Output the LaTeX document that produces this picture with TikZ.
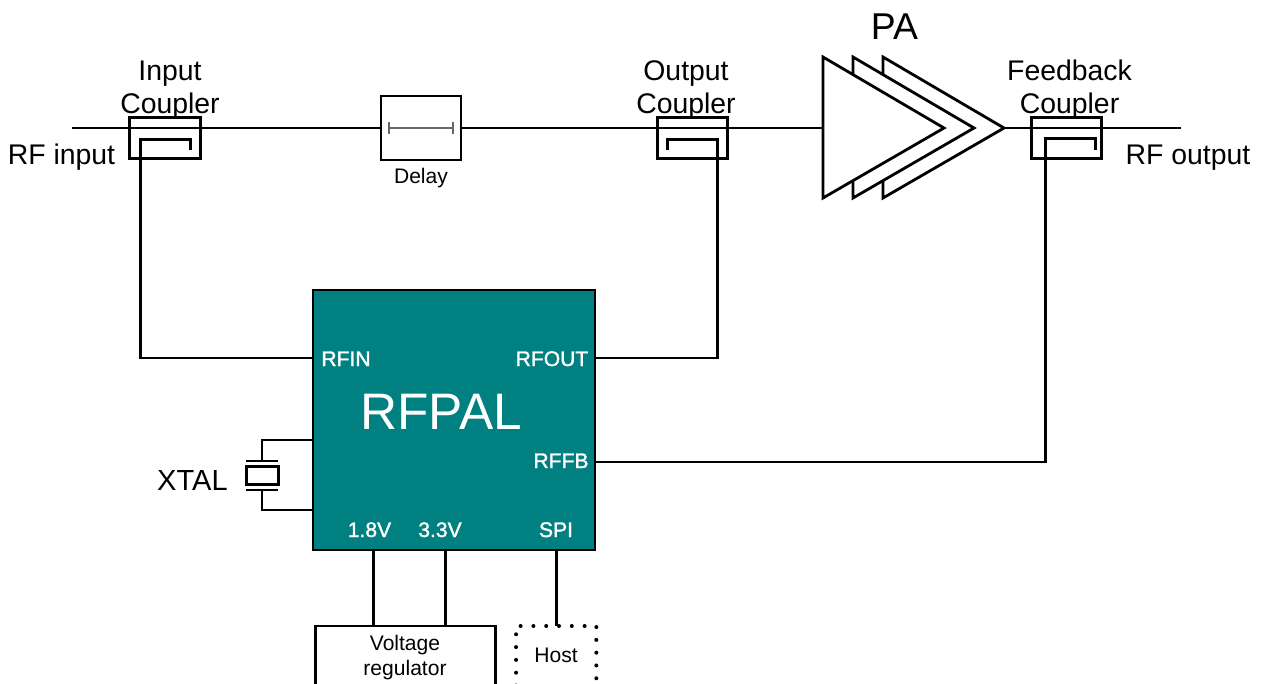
\documentclass[tikz,border=0pt]{standalone}
\usepackage{fontspec}
\setmainfont{Liberation Sans}
\newfontfamily\pinfont[FakeBold=1.5]{Liberation Sans}
\definecolor{chipteal}{HTML}{008080}
\tikzset{
  wire/.style={line width=2.2pt,black,xshift=0.375pt,yshift=-0.375pt},
  boxed/.style={draw=black,line width=2.1pt,inner sep=0pt,outer sep=0pt,rectangle},
  lbl/.style={anchor=base,inner sep=0pt,outer sep=0pt,text=black,font=\fontsize{21.3}{25}\selectfont},
  small/.style={anchor=base,inner sep=0pt,outer sep=0pt,text=black,font=\fontsize{15.8}{19}\selectfont},
  pin/.style={anchor=base,inner sep=0pt,outer sep=0pt,text=white,font=\pinfont\fontsize{15.8}{18}\selectfont},
  amp/.style={draw=black,line width=2.1pt,fill=white,line join=miter}
}
\begin{document}
\begin{tikzpicture}[x=0.75pt,y=-0.75pt]
\useasboundingbox (0,0) rectangle (1261,683);
\clip (0,0) rectangle (1261,683);
% endpoints
\coordinate (inL) at (72,128);
\coordinate (outR) at (1181,128);
% delay
\node[boxed,fill=white,minimum width=60pt,minimum height=48pt] (delay) at (421,128) {};
\node[small] (delaylbl) at (421,183) {Delay};
\coordinate (dl) at (389,128);
\coordinate (dr) at (453,128);
% amp nodes
\coordinate (ampin) at (823,128);
\coordinate (ampout) at (1004,128);
% main line
\draw[wire] (inL) -- (delay.west);
\draw[wire] (delay.east) -- (ampin);
\draw[wire] (ampout) -- (outR);
% delay symbol
\draw[line width=1pt,black!60] (dl) -- (dr);
\draw[line width=1pt,black!60] (389,122) -- (389,134);
\draw[line width=1pt,black!60] (453,122) -- (453,134);
% PA
\draw[amp] (883,57) -- (1004,128) -- (883,198) -- cycle;
\draw[amp] (853,57) -- (974,128) -- (853,198) -- cycle;
\draw[amp] (823,57) -- (944,128) -- (823,198) -- cycle;
\node[lbl,font=\fontsize{28}{30}\selectfont] (pa) at (894.5,39) {PA};
% couplers
\node[boxed,minimum width=53pt,minimum height=30.2pt] (c1) at (165,138) {};
\node[boxed,minimum width=53pt,minimum height=30.2pt] (c2) at (692.5,138) {};
\node[boxed,minimum width=53pt,minimum height=30.2pt] (c3) at (1066.5,138) {};
\node[lbl] (c1t) at (170,80) {Input};
\node[lbl] (c1b) at (170,113) {Coupler};
\node[lbl] (c2t) at (686,80) {Output};
\node[lbl] (c2b) at (686,113) {Coupler};
\node[lbl] (c3t) at (1069.5,80) {Feedback};
\node[lbl] (c3b) at (1069.5,113) {Coupler};
\node[lbl] (rfin) at (61.5,164) {RF input};
\node[lbl] (rfout) at (1188,164) {RF output};
% chip
\node[boxed,fill=chipteal,minimum width=211.5pt,minimum height=195pt] (chip) at (454,420) {};
\node[pin] (pRFIN) at (346,366) {RFIN};
\node[pin] (pRFOUT) at (552,366) {RFOUT};
\node[pin] (pRFFB) at (561,468) {RFFB};
\node[pin] (p18) at (369.5,537) {1.8V};
\node[pin] (p33) at (440,537) {3.3V};
\node[pin] (pSPI) at (556,537) {SPI};
\node[anchor=base,inner sep=0pt,text=white,font=\fontsize{38.5}{46}\selectfont] (rfpal) at (441,429) {RFPAL};
% connectors
\coordinate (j1) at (313,358);
\coordinate (j2) at (595,358);
\coordinate (j3) at (595,462);
\draw[wire,line join=miter] (j1) -| (140,139) -- (190,139) -- (190,149);
\draw[wire,line join=miter] (j2) -| (717,139) -- (667,139) -- (667,149);
\draw[wire,line join=miter] (j3) -| (1045,138) -- (1095,138) -- (1095,149);
% xtal
\coordinate (x1) at (313,440);
\coordinate (x2) at (313,510);
\node[boxed,minimum width=23.5pt,minimum height=13pt] (xtal) at (262.5,475.5) {};
\coordinate (xp1) at (262,461);
\coordinate (xp2) at (262,490);
\draw[wire,line join=miter] (x1) -| (xp1);
\draw[wire,line join=miter] (x2) -| (xp2);
\draw[line width=1.7pt] (246,461) -- (278,461);
\draw[line width=1.7pt] (246,490) -- (278,490);
\node[lbl,font=\fontsize{21.8}{25}\selectfont] (xtallbl) at (192.5,490) {XTAL};
% bottom boxes
\node[boxed,minimum width=135.5pt,minimum height=75pt] (reg) at (405.5,676) {};
\node[small] (regt1) at (405,650) {Voltage};
\node[small] (regt2) at (405,675) {regulator};
\draw[wire] (373,550) -- (373,626);
\draw[wire] (445,550) -- (445,626);
\node[draw=black,line width=3pt,dash pattern=on 0pt off 9.6pt,line cap=round,minimum width=60.2pt,minimum height=75pt,inner sep=0pt,outer sep=0pt] (host) at (556.2,676) {};
\node[small] (hostt) at (556,662) {Host};
\draw[wire] (host.north |- chip.south) -- (host.north);
\end{tikzpicture}
\end{document}
